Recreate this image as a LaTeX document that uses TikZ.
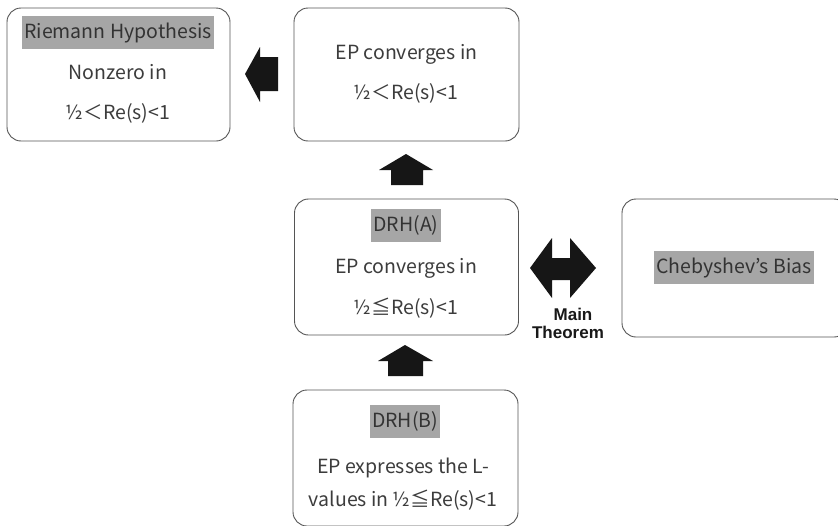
\documentclass[tikz,border=0pt]{standalone}
\usepackage{fontspec}
\setmainfont{Noto Sans CJK JP}
\newfontfamily\mtfont{Liberation Sans}
\definecolor{hl}{RGB}{166,166,166}
\definecolor{txtc}{RGB}{60,60,60}
\definecolor{boxc}{RGB}{85,85,85}
\definecolor{arr}{RGB}{22,22,22}
\begin{document}
\begin{tikzpicture}[x=1pt,y=-1pt,
  box/.style={draw=boxc, line width=0.9pt, rounded corners=14pt, fill=white},
  txt/.style={text=txtc, font=\fontsize{19.5}{23}\selectfont, text height=18.5pt, text depth=4.9pt, inner xsep=0pt, inner ysep=0pt},
  hltxt/.style={txt, fill=hl, text=black!80, inner xsep=2.5pt, inner ysep=4.8pt},
  blk/.style={fill=arr, draw=none},
  mt/.style={font=\mtfont\bfseries\fontsize{17}{20}\selectfont, text=black!90, anchor=base, inner sep=0pt}
]
\clip (0,0) rectangle (838,525);
\fill[white] (0,0) rectangle (838,525);
% boxes
\node[box, minimum width=223pt, minimum height=133pt] (rh) at (118.5,74.5) {};
\node[box, minimum width=225pt, minimum height=133pt] (ep) at (406.5,74.5) {};
\node[box, minimum width=224pt, minimum height=136pt] (dra) at (406.5,267) {};
\node[box, minimum width=226pt, minimum height=138pt] (cb) at (735,268) {};
\node[box, minimum width=225pt, minimum height=136pt] (drb) at (405.5,458) {};
% texts
\node[hltxt] (rh1) at (118,32) {Riemann Hypothesis};
\node[txt] (rh2) at (118,73) {Nonzero in};
\node[txt] (rh3) at (118,113) {½＜Re(s)<1};
\node[txt] (ep1) at (406.5,53) {EP converges in};
\node[txt] (ep2) at (406,93) {½＜Re(s)<1};
\node[hltxt] (da1) at (406,225) {DRH(A)};
\node[txt] (da2) at (406,267) {EP converges in};
\node[txt] (da3) at (406,308) {½≦Re(s)<1};
\node[hltxt] (db1) at (405,421) {DRH(B)};
\node[txt] (db2) at (403,467) {EP expresses the L-};
\node[txt] (db3) at (403,500) {values in ½≦Re(s)<1};
\node[hltxt] (cb1) at (734,267) {Chebyshev’s Bias};
\node[mt] (mt1) at (573,320) {Main};
\node[mt] (mt2) at (568,338) {Theorem};
% block arrows
\fill[blk] (245,74) -- (260,47) -- (260,57) -- (278,57) -- (278,91) -- (260,91) -- (260,102) -- cycle;
\fill[blk] (406,154) -- (433,170) -- (423,170) -- (423,185) -- (391,185) -- (391,170) -- (379,170) -- cycle;
\fill[blk] (405,345) -- (433,361) -- (423,361) -- (423,376) -- (388,376) -- (388,361) -- (378,361) -- cycle;
\fill[blk] (530,268) -- (552,238) -- (552,258) -- (570,258) -- (570,238) -- (596,268) -- (570,298) -- (570,280) -- (552,280) -- (552,298) -- cycle;
\end{tikzpicture}
\end{document}
